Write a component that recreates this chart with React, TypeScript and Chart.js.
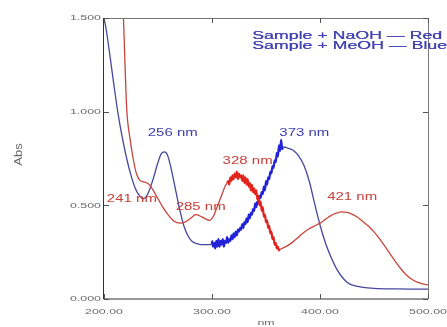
import React, { useEffect, useRef } from "react";
import { Chart, registerables } from "chart.js";
Chart.register(...registerables);

// Sample + NaOH (red)
const naohNm = [205, 210, 215, 218, 221, 224, 227, 230, 233, 237, 241, 245, 250, 255, 260, 265, 270, 275, 280, 285, 290, 295, 298, 300, 302, 304, 306, 308, 310, 312, 314,
  315, 316, 317, 318, 319, 320, 321, 322, 323, 324,
  325, 326, 327, 328, 329, 330, 331, 332, 333, 334,
  335, 336, 337, 338, 339, 340, 341, 342, 343, 344,
  345, 346, 347, 348, 349, 350, 351, 352, 353, 354,
  355, 356, 357, 358, 359, 360, 361, 362, 363,
  365, 370, 375, 380, 385, 390, 395, 400, 405, 410, 415, 420, 425, 430, 435, 440, 445, 450, 455, 460, 465, 470, 475, 480, 485, 490, 495, 500];
const naohAbs = [3.2, 2.6, 1.95, 1.5, 1.02, 0.86, 0.75, 0.67, 0.635, 0.625, 0.615, 0.585, 0.535, 0.485, 0.445, 0.415, 0.405, 0.41, 0.43, 0.45, 0.44, 0.425, 0.42, 0.43, 0.45, 0.48, 0.51, 0.54, 0.57, 0.6, 0.62,
  0.63, 0.61, 0.65, 0.63, 0.66, 0.64, 0.67, 0.65, 0.68, 0.64,
  0.67, 0.65, 0.66, 0.63, 0.66, 0.62, 0.65, 0.61, 0.64, 0.6,
  0.62, 0.58, 0.61, 0.57, 0.59, 0.56, 0.58, 0.53, 0.55, 0.5,
  0.52, 0.47, 0.49, 0.44, 0.45, 0.41, 0.42, 0.38, 0.39, 0.35,
  0.36, 0.32, 0.33, 0.29, 0.3, 0.27, 0.28, 0.26, 0.265,
  0.27, 0.285, 0.305, 0.33, 0.355, 0.375, 0.39, 0.405, 0.425, 0.445, 0.458, 0.465, 0.462, 0.452, 0.435, 0.413, 0.388, 0.358, 0.322, 0.282, 0.24, 0.198, 0.16, 0.128, 0.105, 0.09, 0.081, 0.075];

// Sample + MeOH (blue)
const meohNm = [200, 202, 205, 209, 213, 217, 221, 225, 229, 233, 236, 239, 242, 246, 250, 253, 256, 259, 262, 266, 270, 274, 278, 282, 286, 290, 295, 299,
  300, 301, 302, 303, 304, 305, 306, 307, 308, 309,
  310, 311, 312, 313, 314, 315, 316, 317, 318, 319,
  320, 321, 322, 323, 324, 325, 326, 327, 328, 329,
  330, 331, 332, 333, 334, 335, 336, 337, 338, 339,
  340, 341, 342, 343, 344, 345, 346, 347, 348, 349,
  350, 351, 352, 353, 354, 355, 356, 357, 358, 359,
  360, 361, 362, 363, 364, 365, 366,
  368, 370, 373, 376, 380, 385, 390, 395, 400, 405, 410, 415, 420, 425, 430, 440, 450, 470, 500];
const meohAbs = [1.5, 1.44, 1.32, 1.15, 0.99, 0.86, 0.75, 0.66, 0.59, 0.55, 0.535, 0.545, 0.58, 0.65, 0.73, 0.775, 0.785, 0.765, 0.7, 0.59, 0.48, 0.39, 0.335, 0.305, 0.295, 0.29, 0.29, 0.29,
  0.31, 0.28, 0.3, 0.27, 0.31, 0.28, 0.32, 0.28, 0.31, 0.29,
  0.32, 0.28, 0.31, 0.3, 0.33, 0.3, 0.32, 0.31, 0.34, 0.32,
  0.35, 0.33, 0.36, 0.34, 0.37, 0.36, 0.38, 0.37, 0.4, 0.38,
  0.41, 0.4, 0.43, 0.41, 0.45, 0.43, 0.46, 0.45, 0.48, 0.47,
  0.51, 0.49, 0.52, 0.51, 0.55, 0.54, 0.57, 0.56, 0.6, 0.58,
  0.63, 0.61, 0.65, 0.64, 0.68, 0.67, 0.71, 0.7, 0.74, 0.73,
  0.78, 0.76, 0.82, 0.79, 0.85, 0.8, 0.81,
  0.81, 0.805, 0.8, 0.79, 0.765, 0.715, 0.63, 0.51, 0.395, 0.3, 0.225, 0.165, 0.12, 0.09, 0.074, 0.062, 0.057, 0.054, 0.053];

const yTicks = [0, 0.5, 1.0, 1.5];
const yTickLabels = ["0.000", "0.500", "1.000", "1.500"];
const xTicks = [200, 300, 400, 500];
const xTickLabels = ["200.00", "300.00", "400.00", "500.00"];

const peakLabels = ["241 nm", "256 nm", "285 nm", "328 nm", "373 nm", "421 nm"];
const peakSeries = ["red", "blue", "red", "red", "blue", "red"];
const peakAnchorNm = [225.8, 263.7, 289.5, 333.0, 385.5, 429.8];
const peakAnchorAbs = [0.534, 0.886, 0.491, 0.737, 0.886, 0.545];

const legendLines = ["Sample + NaOH \u2014 Red", "Sample + MeOH \u2014 Blue"];
const xTitle = "nm";
const yTitle = "Abs";

const RED = "#c8463e";
const RED_NOISY = "#e3241e";
const BLUE = "#47479f";
const BLUE_NOISY = "#2222d8";

function drawStretch(ctx: CanvasRenderingContext2D, text: string, x: number, y: number, sx: number, align: string) {
  const w = ctx.measureText(text).width * sx;
  const x0 = align === "left" ? x : align === "center" ? x - w / 2 : x - w;
  ctx.save();
  ctx.translate(x0, y);
  ctx.scale(sx, 1);
  ctx.textAlign = "left";
  ctx.textBaseline = "middle";
  ctx.fillText(text, 0, 0);
  ctx.restore();
}

const decorPlugin = {
  id: "decor",
  afterDraw(chart: any) {
    const { ctx, chartArea, scales } = chart;
    const { left, right, top, bottom } = chartArea;
    const xs = scales.x;
    const ys = scales.y;
    ctx.save();
    // frame
    ctx.lineWidth = 1;
    ctx.strokeStyle = "#777";
    ctx.beginPath();
    ctx.moveTo(left, Math.round(top) + 0.5);
    ctx.lineTo(right, Math.round(top) + 0.5);
    ctx.moveTo(Math.round(right) + 0.5, top);
    ctx.lineTo(Math.round(right) + 0.5, bottom);
    ctx.stroke();
    ctx.strokeStyle = "#333";
    ctx.beginPath();
    ctx.moveTo(Math.round(left) - 0.5, top);
    ctx.lineTo(Math.round(left) - 0.5, bottom);
    ctx.lineTo(right, bottom);
    ctx.stroke();
    ctx.strokeStyle = "#555";
    ctx.beginPath();
    yTicks.forEach((v) => {
      const py = Math.round(ys.getPixelForValue(v)) + 0.5;
      ctx.moveTo(left, py);
      ctx.lineTo(left + 5, py);
      ctx.moveTo(right, py);
      ctx.lineTo(right - 5, py);
    });
    xTicks.forEach((v) => {
      const px = Math.round(xs.getPixelForValue(v)) + 0.5;
      ctx.moveTo(px, bottom);
      ctx.lineTo(px, bottom - 5);
      ctx.moveTo(px, top);
      ctx.lineTo(px, top + 5);
    });
    ctx.stroke();

    // tick labels
    ctx.fillStyle = "#6a6a6a";
    ctx.font = "8px 'Liberation Sans', Arial, sans-serif";
    yTicks.forEach((v, i) => {
      drawStretch(ctx, yTickLabels[i], left - 3, ys.getPixelForValue(v), 1.55, "right");
    });
    xTicks.forEach((v, i) => {
      drawStretch(ctx, xTickLabels[i], xs.getPixelForValue(v), bottom + 13, 1.55, "center");
    });
    // axis titles
    drawStretch(ctx, xTitle, (left + right) / 2, bottom + 24, 1.55, "center");
    ctx.save();
    ctx.translate(19, (top + bottom) / 2 - 4);
    ctx.rotate(-Math.PI / 2);
    ctx.font = "10px 'Liberation Sans', Arial, sans-serif";
    drawStretch(ctx, yTitle, 0, 0, 1.3, "center");
    ctx.restore();

    // peak labels
    ctx.font = "10px 'Liberation Sans', Arial, sans-serif";
    peakLabels.forEach((t, i) => {
      ctx.fillStyle = peakSeries[i] === "red" ? "#c9413a" : "#3d3dae";
      drawStretch(ctx, t, xs.getPixelForValue(peakAnchorNm[i]), ys.getPixelForValue(peakAnchorAbs[i]), 1.5, "center");
    });

    // legend text
    ctx.font = "10px 'Liberation Sans', Arial, sans-serif";
    ctx.fillStyle = "#4343b3";
    const sx = 190 / ctx.measureText(legendLines[0]).width;
    legendLines.forEach((t, i) => {
      drawStretch(ctx, t, 252, 36 + i * 10, sx, "left");
      drawStretch(ctx, t, 252.4, 36 + i * 10, sx, "left");
    });
    ctx.restore();
  },
};

export default function App() {
  const ref = useRef<HTMLCanvasElement | null>(null);
  useEffect(() => {
    if (!ref.current) return;
    const noisy = (lo: number, hi: number) => (c: any) => c.p0.parsed.x >= lo && c.p1.parsed.x <= hi;
    const redNoisy = noisy(314, 363);
    const blueNoisy = noisy(300, 366);
    const chart = new Chart(ref.current, {
      type: "line",
      data: {
        datasets: [
          {
            label: "Sample + NaOH",
            data: naohNm.map((x, i) => ({ x, y: naohAbs[i] })),
            borderColor: RED,
            borderWidth: 1.3,
            pointRadius: 0,
            cubicInterpolationMode: "monotone",
            segment: {
              borderColor: (c: any) => (redNoisy(c) ? RED_NOISY : RED),
              borderWidth: (c: any) => (redNoisy(c) ? 2.2 : 1.3),
            },
          } as any,
          {
            label: "Sample + MeOH",
            data: meohNm.map((x, i) => ({ x, y: meohAbs[i] })),
            borderColor: BLUE,
            borderWidth: 1.3,
            pointRadius: 0,
            cubicInterpolationMode: "monotone",
            segment: {
              borderColor: (c: any) => (blueNoisy(c) ? BLUE_NOISY : BLUE),
              borderWidth: (c: any) => (blueNoisy(c) ? 2.2 : 1.3),
            },
          } as any,
        ],
      },
      options: {
        animation: false,
        responsive: false,
        maintainAspectRatio: false,
        layout: { padding: { left: 104, right: 19, top: 18, bottom: 28 } },
        scales: {
          x: { type: "linear", min: 200, max: 500, display: false },
          y: { type: "linear", min: 0, max: 1.5, display: false },
        },
        plugins: { legend: { display: false }, tooltip: { enabled: false } },
      },
      plugins: [decorPlugin],
    });
    return () => chart.destroy();
  }, []);
  return (
    <div style={{ position: "absolute", left: 0, top: 0, width: 447, height: 327, background: "#fff" }}>
      <canvas ref={ref} width={447} height={327} style={{ display: "block" }} />
    </div>
  );
}
